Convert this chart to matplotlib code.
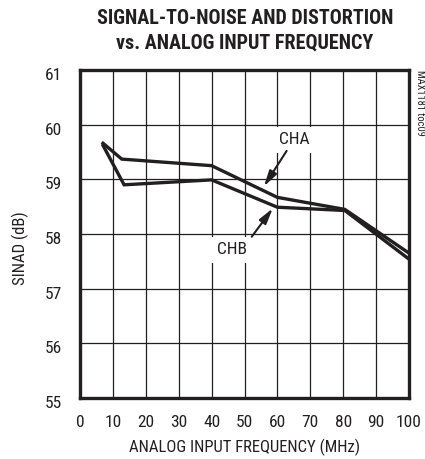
import matplotlib
matplotlib.use("Agg")
import matplotlib.pyplot as plt
from matplotlib import font_manager
from matplotlib.transforms import ScaledTranslation

ttf = font_manager.fontManager.ttflist
names = {f.name for f in ttf}
family = 'Liberation Sans'
stretch = 'normal'
for cand in ['Liberation Sans Narrow', 'Roboto Condensed', 'Open Sans Condensed', 'DejaVu Sans Condensed',
             'Noto Sans Condensed', 'Arial Narrow']:
    if cand in names:
        family = cand
        break
else:
    cond = [f for f in ttf if str(f.stretch) in ('condensed', 'semi-condensed', 'extra-condensed', '75', '87.5')]
    if cond:
        family = cond[0].name
        stretch = 'condensed'
plt.rcParams['font.family'] = [family, 'DejaVu Sans']
plt.rcParams['font.stretch'] = stretch

freq_a = [7, 12.7, 40, 60, 80.5, 100]
sinad_a = [59.66, 59.37, 59.25, 58.67, 58.45, 57.65]
freq_b = [7, 13.4, 40, 60, 80.5, 100]
sinad_b = [59.62, 58.9, 58.99, 58.49, 58.43, 57.54]
xticks = list(range(0, 101, 10))
yticks = list(range(55, 62))

ink = '#231f20'
fig = plt.figure(figsize=(4.25, 4.59), dpi=100)
ax = fig.add_axes([80/425, 1-398/459, 329/425, 328/459])
ax.plot(freq_a, sinad_a, color=ink, lw=2.4, solid_joinstyle='miter', zorder=3)
ax.plot(freq_b, sinad_b, color=ink, lw=2.4, solid_joinstyle='miter', zorder=3)
ax.set_xlim(0, 100)
ax.set_ylim(55, 61)
ax.set_xticks(xticks)
ax.set_yticks(yticks)
ax.grid(True, color=ink, lw=0.9)
ax.tick_params(length=0, labelsize=12.5, colors=ink)
ax.tick_params(axis='x', pad=12)
ax.tick_params(axis='y', pad=13)
for t in ax.yaxis.get_major_ticks():
    t.label1.set_transform(t.label1.get_transform() + ScaledTranslation(0, -0.04, fig.dpi_scale_trans))
for s in ax.spines.values():
    s.set_linewidth(2.4)
    s.set_color(ink)
ax.set_xlabel('ANALOG INPUT FREQUENCY (MHz)', fontsize=12, color=ink, labelpad=6.5)
fig.text(20/425, 1-248/459, 'SINAD (dB)', fontsize=12, rotation=90, ha='center', va='center', color=ink)

bb = dict(facecolor='white', edgecolor='none', pad=4)
ax.text(65, 59.72, 'CHA', fontsize=12.5, ha='center', va='center', bbox=bb, color=ink, zorder=4)
ax.text(46.1, 57.71, 'CHB', fontsize=12.5, ha='center', va='center', bbox=bb, color=ink, zorder=4)
arrow = dict(arrowstyle='-|>,head_length=0.94,head_width=0.25', color=ink, lw=1.5,
             mutation_scale=10, shrinkA=0, shrinkB=0)
ax.annotate('', xy=(55.9, 58.87), xytext=(62.8, 59.52), arrowprops=arrow, zorder=5)
ax.annotate('', xy=(58.6, 58.47), xytext=(52.2, 57.95), arrowprops=arrow, zorder=5)

fig.text(245/425, 1-19/459, 'SIGNAL-TO-NOISE AND DISTORTION', fontsize=14.5, fontweight='bold',
         ha='center', va='center', color=ink)
fig.text(245/425, 1-43.5/459, 'vs. ANALOG INPUT FREQUENCY', fontsize=14.5, fontweight='bold',
         ha='center', va='center', color=ink)
fig.text(420/425, 1-70/459, 'MAX1181 toc09', fontsize=7.5, rotation=-90, ha='center', va='top', color=ink)

fig.savefig('out.png', dpi=100)
